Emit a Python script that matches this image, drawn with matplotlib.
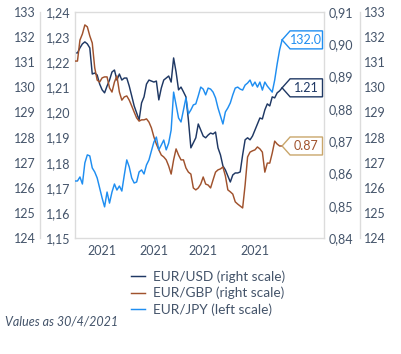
import numpy as np
import matplotlib
matplotlib.use("Agg")
import matplotlib.pyplot as plt
from matplotlib.patches import Polygon
from matplotlib.transforms import IdentityTransform

# ---------------------------------------------------------------------------
# Data (daily closes, Jan - Apr 2021)
# ---------------------------------------------------------------------------

eur_usd = [
    1.2237, 1.2237, 1.2257, 1.2273, 1.2281, 1.2273, 1.2257, 1.2153, 1.2157, 1.2149,
    1.2113, 1.2090, 1.2078, 1.2105, 1.2129, 1.2161, 1.2169, 1.2129, 1.2153, 1.2129,
    1.2137, 1.2137, 1.2105, 1.2066, 1.2026, 1.1998, 1.1970, 1.2038, 1.2062, 1.2113,
    1.2129, 1.2125, 1.2121, 1.2125, 1.2050, 1.2097, 1.2129, 1.2137, 1.2145, 1.2121,
    1.2217, 1.2161, 1.2090, 1.2101, 1.2082, 1.2062, 1.1970, 1.1859, 1.1879, 1.1899,
    1.1954, 1.1930, 1.1906, 1.1899, 1.1910, 1.1918, 1.1914, 1.1922, 1.1859, 1.1831,
    1.1787, 1.1771, 1.1747, 1.1723, 1.1751, 1.1759, 1.1759, 1.1763, 1.1831, 1.1891,
    1.1899, 1.1891, 1.1906, 1.1930, 1.1954, 1.1978, 1.1974, 1.2010, 1.2034, 1.2026,
    1.2062, 1.2058, 1.2078, 1.2086, 1.2098,
]

eur_gbp = [
    0.8948, 0.8948, 0.9013, 0.9032, 0.9060, 0.9054, 0.9026, 0.9004, 0.8927, 0.8889,
    0.8883, 0.8896, 0.8899, 0.8899, 0.8865, 0.8852, 0.8883, 0.8902, 0.8852, 0.8827,
    0.8837, 0.8840, 0.8827, 0.8809, 0.8790, 0.8772, 0.8762, 0.8766, 0.8766, 0.8769,
    0.8759, 0.8741, 0.8713, 0.8691, 0.8673, 0.8657, 0.8651, 0.8642, 0.8623, 0.8598,
    0.8642, 0.8676, 0.8657, 0.8642, 0.8642, 0.8617, 0.8604, 0.8598, 0.8555, 0.8549,
    0.8555, 0.8567, 0.8589, 0.8567, 0.8564, 0.8555, 0.8580, 0.8604, 0.8611, 0.8614,
    0.8620, 0.8592, 0.8549, 0.8543, 0.8536, 0.8512, 0.8505, 0.8499, 0.8493, 0.8564,
    0.8651, 0.8666, 0.8670, 0.8673, 0.8682, 0.8676, 0.8666, 0.8604, 0.8632, 0.8632,
    0.8663, 0.8700, 0.8691, 0.8685, 0.8685,
]

eur_jpy = [
    126.27, 126.27, 126.43, 126.15, 126.99, 127.31, 127.27, 126.79, 126.63, 126.39,
    125.99, 125.59, 125.24, 125.83, 125.39, 125.83, 126.15, 125.91, 126.07, 125.87,
    126.51, 127.11, 126.83, 126.39, 126.19, 126.23, 126.63, 126.71, 126.55, 126.91,
    127.11, 127.47, 127.82, 128.02, 127.51, 127.70, 127.90, 127.51, 127.78, 128.30,
    129.81, 129.30, 128.78, 128.62, 129.10, 129.58, 128.94, 129.10, 129.30, 129.34,
    129.66, 130.01, 129.93, 129.70, 129.97, 129.93, 129.81, 129.58, 129.18, 128.86,
    128.54, 129.02, 129.18, 129.38, 129.70, 129.97, 130.01, 129.93, 129.89, 130.09,
    130.17, 130.29, 130.05, 130.21, 130.01, 130.21, 129.89, 130.21, 130.05, 129.93,
    129.81, 130.29, 130.93, 131.49, 131.89,
]

usd_ticks = [1.15, 1.16, 1.17, 1.18, 1.19, 1.20, 1.21, 1.22, 1.23, 1.24]
gbp_ticks = [0.84, 0.85, 0.86, 0.87, 0.88, 0.89, 0.90, 0.91]
jpy_ticks = [124, 125, 126, 127, 128, 129, 130, 131, 132, 133]
x_tick_pos = [11, 32, 52, 73]
x_tick_labels = ["2021", "2021", "2021", "2021"]

end_labels = ["1.21", "0.87", "132.0"]
legend_labels = ["EUR/USD (right scale)", "EUR/GBP (right scale)", "EUR/JPY (left scale)"]
note = "Values as 30/4/2021"

# ---------------------------------------------------------------------------
# Style
# ---------------------------------------------------------------------------

C_USD = "#1f3864"
C_GBP = "#a0522d"
C_JPY = "#1f8ef1"
C_GBP_EDGE = "#c9a66b"
C_TEXT = "#44546a"
C_FRAME = "#dcdcdc"

plt.rcParams["font.family"] = ["Lato", "DejaVu Sans"]

fig = plt.figure(figsize=(4.01, 3.54), dpi=100)
ax = fig.add_axes([75 / 401, 116 / 354, 249 / 401, 226 / 354])
ax_gbp = ax.twinx()
ax_jpy = ax.twinx()

x = np.arange(len(eur_usd))

l_usd, = ax.plot(x, eur_usd, color=C_USD, lw=1.05)
l_gbp, = ax_gbp.plot(x, eur_gbp, color=C_GBP, lw=1.05)
l_jpy, = ax_jpy.plot(x, eur_jpy, color=C_JPY, lw=1.05)

ax.set_xlim(0, 101)
ax.set_ylim(usd_ticks[0], usd_ticks[-1])
ax_gbp.set_ylim(gbp_ticks[0], gbp_ticks[-1])
ax_jpy.set_ylim(jpy_ticks[0], jpy_ticks[-1])

ax.set_xticks(x_tick_pos)
ax.set_xticklabels(x_tick_labels)
ax.set_yticks(usd_ticks)
ax.set_yticklabels([f"{v:.2f}".replace(".", ",") for v in usd_ticks])
ax_gbp.set_yticks(gbp_ticks)
ax_gbp.set_yticklabels([f"{v:.2f}".replace(".", ",") for v in gbp_ticks])
ax_jpy.set_yticks(jpy_ticks)
ax_jpy.set_yticklabels([str(v) for v in jpy_ticks])

for s in ax.spines.values():
    s.set_color(C_FRAME)
    s.set_linewidth(1.0)
for s in ax_gbp.spines.values():
    s.set_visible(False)
for name, s in ax_jpy.spines.items():
    if name in ("top", "bottom"):
        s.set_visible(False)
    else:
        s.set_color(C_FRAME)
        s.set_linewidth(1.0)
ax_jpy.spines["left"].set_position(("outward", 25.2))
ax_jpy.spines["right"].set_position(("outward", 25.9))

tick_kw = dict(length=0, labelsize=9, labelcolor=C_TEXT, pad=3)
ax.tick_params(axis="y", **tick_kw)
ax.tick_params(axis="x", length=0, labelsize=9, labelcolor=C_TEXT, pad=5)
ax_gbp.tick_params(axis="y", **tick_kw)
ax_jpy.tick_params(axis="y", left=False, right=False, labelleft=True,
                   labelright=True, **tick_kw)


# end-of-series value tags
def value_tag(axis, xv, yv, text, txt_color, edge_color):
    tip_x, tip_y = axis.transData.transform((xv, yv))
    right = ax.bbox.x1 - 1.5
    h = 9.0
    verts = [(tip_x, tip_y), (tip_x + 8, tip_y + h), (right, tip_y + h),
             (right, tip_y - h), (tip_x + 8, tip_y - h)]
    fig.add_artist(Polygon(verts, closed=True, facecolor="white",
                           edgecolor=edge_color, lw=1.0,
                           transform=IdentityTransform(), zorder=5))
    cx = (tip_x + 8 + right) / 2
    fig.text(cx / fig.bbox.width, tip_y / fig.bbox.height, text,
             color=txt_color, fontsize=9, ha="center", va="center",
             zorder=6)


value_tag(ax, x[-1], eur_usd[-1], end_labels[0], C_USD, C_USD)
value_tag(ax_gbp, x[-1], eur_gbp[-1], end_labels[1], C_GBP, C_GBP_EDGE)
value_tag(ax_jpy, x[-1], eur_jpy[-1], end_labels[2], C_JPY, C_JPY)

handles = [l_usd, l_gbp, l_jpy]
fig.legend(handles, legend_labels, loc="upper left",
           bbox_to_anchor=(126 / 401, 1 - 265 / 354), frameon=False,
           fontsize=9.8, labelcolor=C_TEXT, handlelength=1.0,
           handletextpad=0.6, labelspacing=0.28, borderaxespad=0)

fig.text(5 / 401, 1 - 322 / 354, note, fontsize=9, style="italic",
         color=C_TEXT, va="center", ha="left")

fig.savefig("out.png", dpi=100)
